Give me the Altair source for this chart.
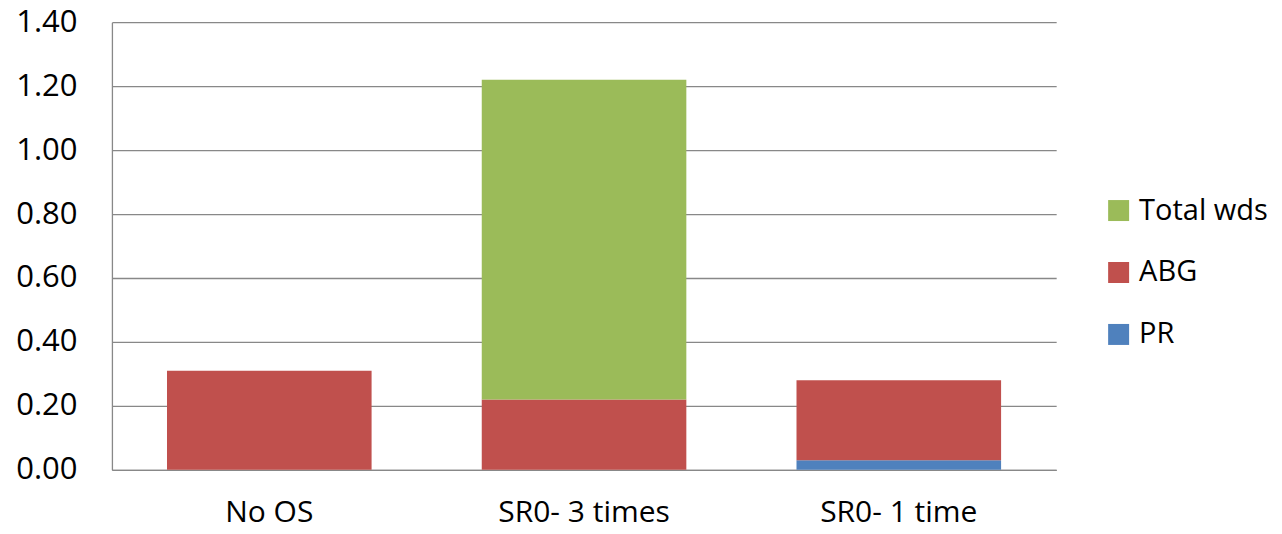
import altair as alt
import pandas as pd

categories = ["No OS", "SR0- 3 times", "SR0- 1 time"]
series = ["Total wds", "ABG", "PR"]
colors = ["#9BBB59", "#C0504D", "#4F81BD"]
pr = [0.0, 0.0, 0.03]
abg = [0.31, 0.22, 0.25]
total_wds = [0.0, 1.00, 0.0]
y_ticks = [0.0, 0.2, 0.4, 0.6, 0.8, 1.0, 1.2, 1.4]

rows = []
for i, c in enumerate(categories):
    rows.append({"cat": c, "series": "PR", "value": pr[i], "ord": 0})
    rows.append({"cat": c, "series": "ABG", "value": abg[i], "ord": 1})
    rows.append({"cat": c, "series": "Total wds", "value": total_wds[i], "ord": 2})
df = pd.DataFrame(rows)

FONT = "Open Sans"

chart = alt.Chart(df).mark_bar(strokeWidth=0).encode(
    x=alt.X("cat:N", sort=categories, title=None,
            scale=alt.Scale(paddingInner=0.35, paddingOuter=0.175),
            axis=alt.Axis(labelAngle=0, labelFontSize=30, labelFont=FONT, labelColor="#000000",
                          labelPadding=28, ticks=False, domain=True, domainColor="#888888",
                          domainWidth=1.3, grid=False)),
    y=alt.Y("value:Q", stack="zero", title=None,
            scale=alt.Scale(domain=[0, 1.4], nice=False),
            axis=alt.Axis(values=y_ticks, format=".2f", labelFontSize=31, labelFont=FONT,
                          labelColor="#000000", labelPadding=35, ticks=False,
                          domain=True, domainColor="#888888", domainWidth=1.3,
                          grid=True, gridColor="#888888", gridWidth=1.3)),
    color=alt.Color("series:N", scale=alt.Scale(domain=series, range=colors), title=None,
                    legend=alt.Legend(orient="none", legendX=993, legendY=174,
                                      symbolType="square", symbolSize=441, symbolStrokeWidth=0,
                                      labelFontSize=29, labelFont=FONT, labelColor="#000000",
                                      labelOffset=6, rowPadding=32, padding=0)),
    order=alt.Order("ord:Q", sort="ascending"),
).properties(
    width=945,
    height=448,
    autosize=alt.AutoSizeParams(type="none"),
    padding={"left": 104, "top": 14, "right": 218, "bottom": 57},
).configure_view(stroke=None)

chart.save("out.html", embed_options={"renderer": "svg", "actions": False})
